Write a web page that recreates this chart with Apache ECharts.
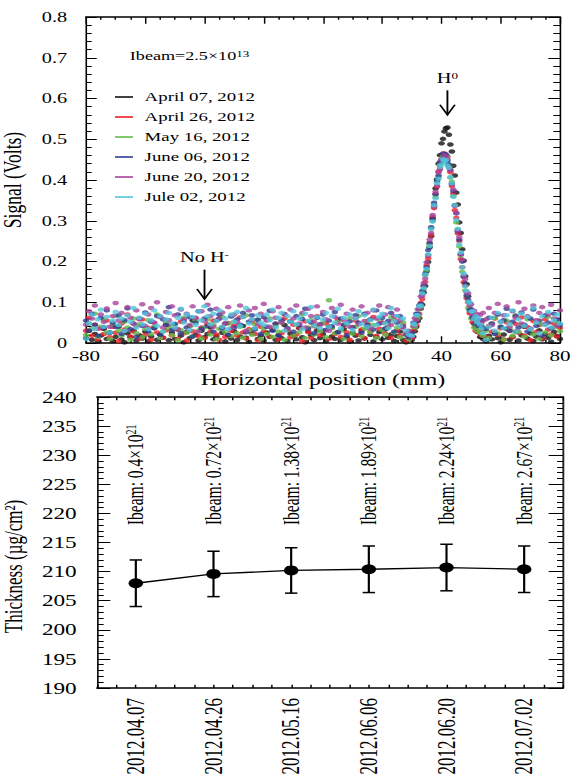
<!DOCTYPE html>
<html>
<head>
<meta charset="utf-8">
<script src="https://cdn.jsdelivr.net/npm/echarts@6/dist/echarts.min.js"></script>
<style>
  html, body { margin: 0; padding: 0; background: #fff; overflow: hidden; }
  /* the figure is drawn narrow and stretched sideways, like the printed plot */
  #chart { width: 394.48px; height: 777px; transform: scaleX(1.45); transform-origin: 0 0; }
</style>
</head>
<body>
<div id="chart"></div>
<script>
const SX = 1.45;                       // horizontal stretch factor of the figure
const px = v => v / SX;                // figure pixels -> chart pixels (horizontal)
const FONT = "'Liberation Serif', 'Times New Roman', serif";

// ---------- upper panel: wire-scanner profiles ----------
const positionsMm = [
  -80,-79,-78,-77,-76,-75,-74,-73,-72,-71,
  -70,-69,-68,-67,-66,-65,-64,-63,-62,-61,
  -60,-59,-58,-57,-56,-55,-54,-53,-52,-51,
  -50,-49,-48,-47,-46,-45,-44,-43,-42,-41,
  -40,-39,-38,-37,-36,-35,-34,-33,-32,-31,
  -30,-29,-28,-27,-26,-25,-24,-23,-22,-21,
  -20,-19,-18,-17,-16,-15,-14,-13,-12,-11,
  -10,-9,-8,-7,-6,-5,-4,-3,-2,-1,
  0,1,2,3,4,5,6,7,8,9,
  10,11,12,13,14,15,16,17,18,19,
  20,21,22,23,24,25,26,27,28,29,
  30,30.5,31,31.5,32,32.5,33,33.5,34,34.5,35,35.5,36,36.5,37,37.5,38,38.5,39,39.5,
  40,40.5,41,41.5,42,42.5,43,43.5,44,44.5,45,45.5,46,46.5,47,47.5,48,48.5,49,49.5,
  50,50.5,51,51.5,52,52.5,53,53.5,54,
  55,56,57,58,59,60,61,62,63,64,65,66,67,68,69,70,71,72,73,74,75,76,77,78,79,80
];

const runLabels = ['April 07, 2012', 'April 26, 2012', 'May 16, 2012', 'June 06, 2012', 'June 20, 2012', 'Jule 02, 2012'];
const runColors = ['#111111', '#ee1d23', '#62b946', '#2e3c92', '#a9449b', '#4fc6dc'];

// signal in millivolts at each position
const april07mV = [
  12,30,8,22,3,18,35,10,26,5,
  15,40,9,2,24,14,31,6,19,11,
  28,4,16,37,8,21,13,45,7,25,
  10,33,18,2,27,12,55,20,6,30,
  14,22,38,9,17,60,25,4,19,11,
  29,7,16,42,13,3,24,35,10,18,
  6,26,15,32,8,20,12,44,5,23,
  17,9,36,14,2,28,19,7,31,12,
  22,5,40,16,10,26,8,34,14,3,
  25,18,6,30,11,38,20,4,15,27,
  9,33,13,21,5,17,28,8,2,12,
  8,15,29,40,54,61,84,94,124,140,176,199,235,262,306,337,379,402,440,461,
  490,501,519,527,529,511,487,470,435,411,369,340,296,270,230,202,164,144,115,98,
  74,65,47,40,28,26,15,15,10,
  4,18,9,26,12,2,21,35,8,15,28,6,19,40,11,24,5,16,31,9,22,13,3,27,17,10
];
const april26mV = [
  30,62,18,45,9,36,22,55,14,40,
  25,5,48,33,70,16,28,42,11,58,
  20,37,8,50,26,65,13,31,44,19,
  35,10,52,24,6,41,29,60,17,38,
  12,46,27,55,21,8,39,15,49,30,
  43,18,63,26,11,34,52,22,7,40,
  28,57,16,36,47,9,24,60,32,14,
  45,21,38,5,53,27,12,41,66,19,
  31,48,10,37,22,58,15,43,26,8,
  39,55,20,33,12,47,28,64,17,35,
  50,23,40,13,58,30,18,45,6,25,
  12,30,43,44,67,71,98,108,139,150,191,208,244,265,310,331,366,384,421,430,
  450,451,465,455,458,433,419,385,367,326,307,269,250,206,186,149,141,110,100,73,
  74,51,49,30,44,27,39,18,28,
  15,42,28,60,20,36,9,51,30,14,47,25,63,18,39,7,54,27,44,12,58,33,21,48,16,37
];
const may16mV = [
  20,48,35,72,15,40,58,26,10,44,
  66,30,18,52,38,8,60,24,46,14,
  34,56,22,40,70,12,28,50,36,19,
  45,7,32,62,25,41,16,55,30,11,
  38,58,21,44,9,35,64,27,48,17,
  52,24,40,13,68,31,20,46,57,10,
  36,22,60,15,42,28,50,8,33,54,
  18,45,26,70,12,38,56,21,43,29,
  49,14,105,37,24,52,30,10,46,61,
  23,40,66,17,35,55,27,44,12,58,
  32,20,47,63,26,38,14,51,22,9,
  20,40,39,60,61,82,88,120,132,166,178,216,240,281,299,339,359,397,407,438,
  444,457,452,459,442,434,406,396,360,338,296,279,237,215,175,163,129,116,86,84,
  60,62,38,47,30,40,25,37,18,
  30,12,48,62,24,40,8,55,35,18,68,27,44,15,58,33,21,50,10,46,26,64,19,38,52,29
];
const june06mV = [
  55,30,72,45,18,62,38,80,25,50,
  40,68,22,56,85,34,48,15,60,42,
  75,28,52,36,66,20,58,44,88,32,
  47,70,24,54,38,63,16,50,78,35,
  60,42,82,28,55,70,36,48,20,65,
  38,58,45,74,26,52,68,33,57,22,
  63,40,79,30,48,18,56,71,37,52,
  28,66,44,59,84,35,50,24,62,46,
  70,32,55,41,76,27,60,45,19,53,
  38,68,50,25,72,44,58,33,80,48,
  62,36,54,74,28,50,66,40,20,14,
  25,50,49,72,71,92,96,128,141,170,186,228,246,284,304,344,365,398,411,444,
  450,465,458,463,448,438,425,390,373,338,318,274,254,218,200,162,147,116,106,80,
  83,62,67,48,57,42,55,41,56,
  35,62,48,22,70,40,56,84,30,52,66,38,75,45,28,60,82,42,55,18,68,50,36,72,58,44
];
const june20mV = [
  45,78,60,92,35,70,52,85,40,66,
  98,55,74,30,88,62,48,80,58,95,
  42,70,86,50,100,64,38,76,56,90,
  68,34,82,58,72,44,90,62,28,78,
  54,94,66,40,84,60,75,48,88,36,
  70,52,92,64,30,80,58,86,46,72,
  96,55,40,78,62,88,50,70,34,82,
  60,92,48,74,38,84,66,52,90,44,
  76,58,30,86,64,48,94,56,72,40,
  82,62,46,90,54,74,36,80,60,92,
  50,70,88,44,66,82,56,38,24,30,
  15,42,61,56,83,84,114,116,147,158,198,214,254,270,314,334,371,386,419,426,
  450,451,460,449,452,430,423,390,377,336,320,276,260,218,204,166,157,124,122,92,
  95,70,79,58,71,52,69,50,74,
  58,86,44,74,96,52,68,90,40,78,62,100,48,84,66,36,92,56,74,88,46,70,94,60,42,80
];
const july02mV = [
  10,48,70,35,58,82,40,64,26,55,
  76,44,60,30,68,52,86,38,62,46,
  72,34,56,80,42,66,28,58,74,48,
  38,62,84,50,70,32,64,44,78,56,
  90,66,46,72,54,80,40,60,34,70,
  52,76,42,64,86,48,58,36,68,50,
  44,70,56,82,38,62,74,30,66,52,
  78,46,60,34,72,54,88,42,64,36,
  58,74,40,66,50,84,36,62,48,70,
  32,60,78,46,68,40,56,82,44,64,
  72,48,36,86,54,66,42,60,30,20,
  18,48,45,68,69,90,92,122,135,168,182,218,238,280,298,338,355,392,403,432,
  438,451,446,449,436,430,407,392,359,338,302,280,242,222,186,170,139,128,102,98,
  77,78,59,66,51,60,45,36,24,
  8,40,62,30,74,52,36,68,46,80,28,58,72,42,64,34,86,50,24,66,44,76,38,56,70,48
];
const runsMV = [april07mV, april26mV, may16mV, june06mV, june20mV, july02mV];

// arrows with labels: x (mm), arrow top (V), arrow tip (V)
const arrowNotes = [
  { x: 42, from: 0.62, to: 0.56, main: 'H', sup: '0' },
  { x: -40, from: 0.18, to: 0.108, main: 'No H', sup: '-' }
];
const beamNote = { x: -65.2, y: 0.705, main: 'Ibeam=2.5×10', sup: '13' };

// ---------- lower panel: foil thickness per run ----------
const runDates = ['2012.04.07', '2012.04.26', '2012.05.16', '2012.06.06', '2012.06.20', '2012.07.02'];
const thickness = [208.0, 209.6, 210.2, 210.4, 210.7, 210.4];
const thicknessErr = [4.0, 3.9, 3.9, 4.0, 4.0, 4.0];
const ibeamCoef = ['0.4', '0.72', '1.38', '1.89', '2.24', '2.67'];
const IBEAM_LABEL_AT = 218;   // thickness level where the rotated beam labels start

// ---------- option ----------
const black = '#000';
const supRich = (main, sup) => ({
  m: { fontSize: main, fontFamily: FONT, color: black },
  s: { fontSize: sup, fontFamily: FONT, color: black, verticalAlign: 'top' }
});

function frameAxis(extra) {
  return Object.assign({
    axisLine: { onZero: false, lineStyle: { color: black, width: 1.5 } },
    splitLine: { show: false },
    minorSplitLine: { show: false }
  }, extra);
}

const scatterSeries = runsMV.map((vals, k) => ({
  type: 'scatter',
  name: runLabels[k],
  xAxisIndex: 0,
  yAxisIndex: 0,
  symbol: 'circle',
  symbolSize: 4.5,
  itemStyle: { color: runColors[k] },
  silent: true,
  data: positionsMm.map((x, i) => [x, vals[i] / 1000]).filter(p => !isNaN(p[1]))
}));

const option = {
  animation: false,
  backgroundColor: '#fff',
  textStyle: { fontFamily: FONT, color: black },
  grid: [
    { left: px(86), width: px(474), top: 17, height: 326, containLabel: false, outerBoundsMode: 'none' },
    { left: px(97), width: px(466), top: 397, height: 291, containLabel: false, outerBoundsMode: 'none' }
  ],
  legend: {
    data: runLabels,
    orient: 'vertical',
    left: px(115),
    top: 90,
    padding: 0,
    icon: 'rect',
    itemWidth: px(18),
    itemHeight: 2,
    itemGap: 6,
    selectedMode: false,
    textStyle: { fontSize: 13, fontFamily: FONT, color: black, lineHeight: 14, padding: [0, 0, 0, 3] }
  },
  xAxis: [
    frameAxis({
      type: 'value', gridIndex: 0, position: 'bottom', min: -80, max: 80, interval: 20,
      axisTick: { inside: true, length: 6.7, lineStyle: { color: black, width: 1 } },
      minorTick: { show: true, splitNumber: 4, length: 3, lineStyle: { color: black, width: 1 } },
      axisLabel: { fontSize: 14.5, margin: 6, color: black, fontFamily: FONT },
      name: 'Horizontal position (mm)', nameLocation: 'middle', nameGap: 28,
      nameTextStyle: { fontSize: 16.5, fontFamily: FONT, color: black }
    }),
    frameAxis({
      type: 'value', gridIndex: 0, position: 'top', min: -80, max: 80, interval: 20,
      axisTick: { inside: true, length: 6.7, lineStyle: { color: black, width: 1 } },
      minorTick: { show: true, splitNumber: 4, length: 2.7, lineStyle: { color: black, width: 1 } },
      axisLabel: { show: false }
    }),
    frameAxis({
      type: 'category', gridIndex: 1, position: 'bottom', data: runDates, boundaryGap: true,
      axisTick: { inside: true, alignWithLabel: true, length: 9.3, lineStyle: { color: black, width: 1 } },
      axisLabel: { rotate: 90, fontSize: 17, margin: 10, color: black, fontFamily: FONT }
    }),
    frameAxis({
      type: 'category', gridIndex: 1, position: 'top', data: runDates, boundaryGap: true,
      axisTick: { inside: true, alignWithLabel: true, length: 7.7, lineStyle: { color: black, width: 1 } },
      axisLabel: { show: false }
    }),
    {
      type: 'value', gridIndex: 1, position: 'bottom', min: 0, max: 24, interval: 1,
      axisLine: { show: false, onZero: false },
      axisTick: { inside: true, length: 3.3, lineStyle: { color: black, width: 1 } },
      axisLabel: { show: false }, splitLine: { show: false }
    },
    {
      type: 'value', gridIndex: 1, position: 'top', min: 0, max: 24, interval: 1,
      axisLine: { show: false, onZero: false },
      axisTick: { inside: true, length: 3.3, lineStyle: { color: black, width: 1 } },
      axisLabel: { show: false }, splitLine: { show: false }
    }
  ],
  yAxis: [
    frameAxis({
      type: 'value', gridIndex: 0, position: 'left', min: 0, max: 0.8, interval: 0.1,
      axisLine: { onZero: false, lineStyle: { color: black, width: 1.1 } },
      axisTick: { inside: true, length: 7.4, lineStyle: { color: black, width: 1 } },
      minorTick: { show: true, splitNumber: 5, length: 3.9, lineStyle: { color: black, width: 1 } },
      axisLabel: { fontSize: 14, margin: 13, color: black, fontFamily: FONT },
      name: 'Signal (Volts)', nameLocation: 'middle', nameGap: 38,
      nameTextStyle: { fontSize: 17.5, fontFamily: FONT, color: black }
    }),
    frameAxis({
      type: 'value', gridIndex: 0, position: 'right', min: 0, max: 0.8, interval: 0.1,
      axisLine: { onZero: false, lineStyle: { color: black, width: 1.1 } },
      axisTick: { inside: true, length: 8, lineStyle: { color: black, width: 1 } },
      minorTick: { show: true, splitNumber: 5, length: 4.6, lineStyle: { color: black, width: 1 } },
      axisLabel: { show: false }
    }),
    frameAxis({
      type: 'value', gridIndex: 1, position: 'left', min: 190, max: 240, interval: 5,
      axisLine: { onZero: false, lineStyle: { color: black, width: 1.1 } },
      axisTick: { inside: true, length: 9.2, lineStyle: { color: black, width: 1 } },
      minorTick: { show: true, splitNumber: 5, length: 4.6, lineStyle: { color: black, width: 1 } },
      axisLabel: { fontSize: 16, margin: 14, color: black, fontFamily: FONT },
      name: 'Thickness (µg/cm²)', nameLocation: 'middle', nameGap: 44,
      nameTextStyle: { fontSize: 17, fontFamily: FONT, color: black, padding: [0, 48, 0, 0] }
    }),
    frameAxis({
      type: 'value', gridIndex: 1, position: 'right', min: 190, max: 240, interval: 5,
      axisLine: { onZero: false, lineStyle: { color: '#222', width: 1.3 } },
      axisTick: { inside: true, length: 9.9, lineStyle: { color: black, width: 1 } },
      minorTick: { show: true, splitNumber: 5, length: 4.1, lineStyle: { color: black, width: 1 } },
      axisLabel: { show: false }
    })
  ],
  series: [
    ...scatterSeries,
    {
      // arrows pointing at the H0 peak and the empty H- position
      type: 'custom', name: 'arrows', xAxisIndex: 0, yAxisIndex: 0, silent: true, z: 5,
      data: arrowNotes.map(a => [a.x, a.from, a.to]),
      renderItem(params, api) {
        const note = arrowNotes[params.dataIndex];
        const top = api.coord([api.value(0), api.value(1)]);
        const tip = api.coord([api.value(0), api.value(2)]);
        const hw = px(7.5), hh = 10;
        const stroke = { stroke: black, lineWidth: 1.3, fill: null };
        return {
          type: 'group',
          children: [
            { type: 'line', shape: { x1: top[0], y1: top[1], x2: tip[0], y2: tip[1] }, style: stroke },
            { type: 'polyline', shape: { points: [[tip[0] - hw, tip[1] - hh], [tip[0], tip[1]], [tip[0] + hw, tip[1] - hh]] }, style: stroke },
            {
              type: 'text', x: top[0], y: top[1] - 5,
              style: {
                text: '{m|' + note.main + '}{s|' + note.sup + '}',
                rich: supRich(14, 9), align: 'center', verticalAlign: 'bottom'
              }
            }
          ]
        };
      }
    },
    {
      type: 'custom', name: 'beam', xAxisIndex: 0, yAxisIndex: 0, silent: true, z: 5,
      data: [[beamNote.x, beamNote.y]],
      renderItem(params, api) {
        const p = api.coord([api.value(0), api.value(1)]);
        return {
          type: 'text', x: p[0], y: p[1],
          style: {
            text: '{m|' + beamNote.main + '}{s|' + beamNote.sup + '}',
            rich: supRich(12.5, 9), align: 'left', verticalAlign: 'middle'
          }
        };
      }
    },
    {
      type: 'custom', name: 'errors', xAxisIndex: 2, yAxisIndex: 2, silent: true, z: 2,
      data: thickness.map((v, i) => [i, v, thicknessErr[i]]),
      renderItem(params, api) {
        const i = api.value(0), v = api.value(1), e = api.value(2);
        const hi = api.coord([i, v + e]);
        const lo = api.coord([i, v - e]);
        const hw = px(6.2);
        const st = { stroke: black, lineWidth: 1.5 };
        return {
          type: 'group',
          children: [
            { type: 'line', shape: { x1: hi[0], y1: hi[1], x2: lo[0], y2: lo[1] }, style: st },
            { type: 'line', shape: { x1: hi[0] - hw, y1: hi[1], x2: hi[0] + hw, y2: hi[1] }, style: st },
            { type: 'line', shape: { x1: lo[0] - hw, y1: lo[1], x2: lo[0] + hw, y2: lo[1] }, style: st }
          ]
        };
      }
    },
    {
      type: 'line', name: 'thickness', xAxisIndex: 2, yAxisIndex: 2, z: 3, silent: true,
      data: thickness,
      symbol: 'circle', symbolSize: 10,
      itemStyle: { color: black },
      lineStyle: { color: black, width: 1.3 }
    },
    {
      type: 'custom', name: 'ibeam', xAxisIndex: 2, yAxisIndex: 2, silent: true, z: 4,
      data: ibeamCoef.map((c, i) => [i, IBEAM_LABEL_AT]),
      renderItem(params, api) {
        const p = api.coord([api.value(0), api.value(1)]);
        return {
          type: 'text', x: p[0], y: p[1], rotation: Math.PI / 2,
          style: {
            text: '{m|Ibeam: ' + ibeamCoef[params.dataIndex] + '×10}{s|21}',
            rich: supRich(15.5, 10), align: 'left', verticalAlign: 'middle'
          }
        };
      }
    }
  ]
};

const chart = echarts.init(document.getElementById('chart'), null, { renderer: 'svg' });
chart.setOption(option);
</script>
</body>
</html>
